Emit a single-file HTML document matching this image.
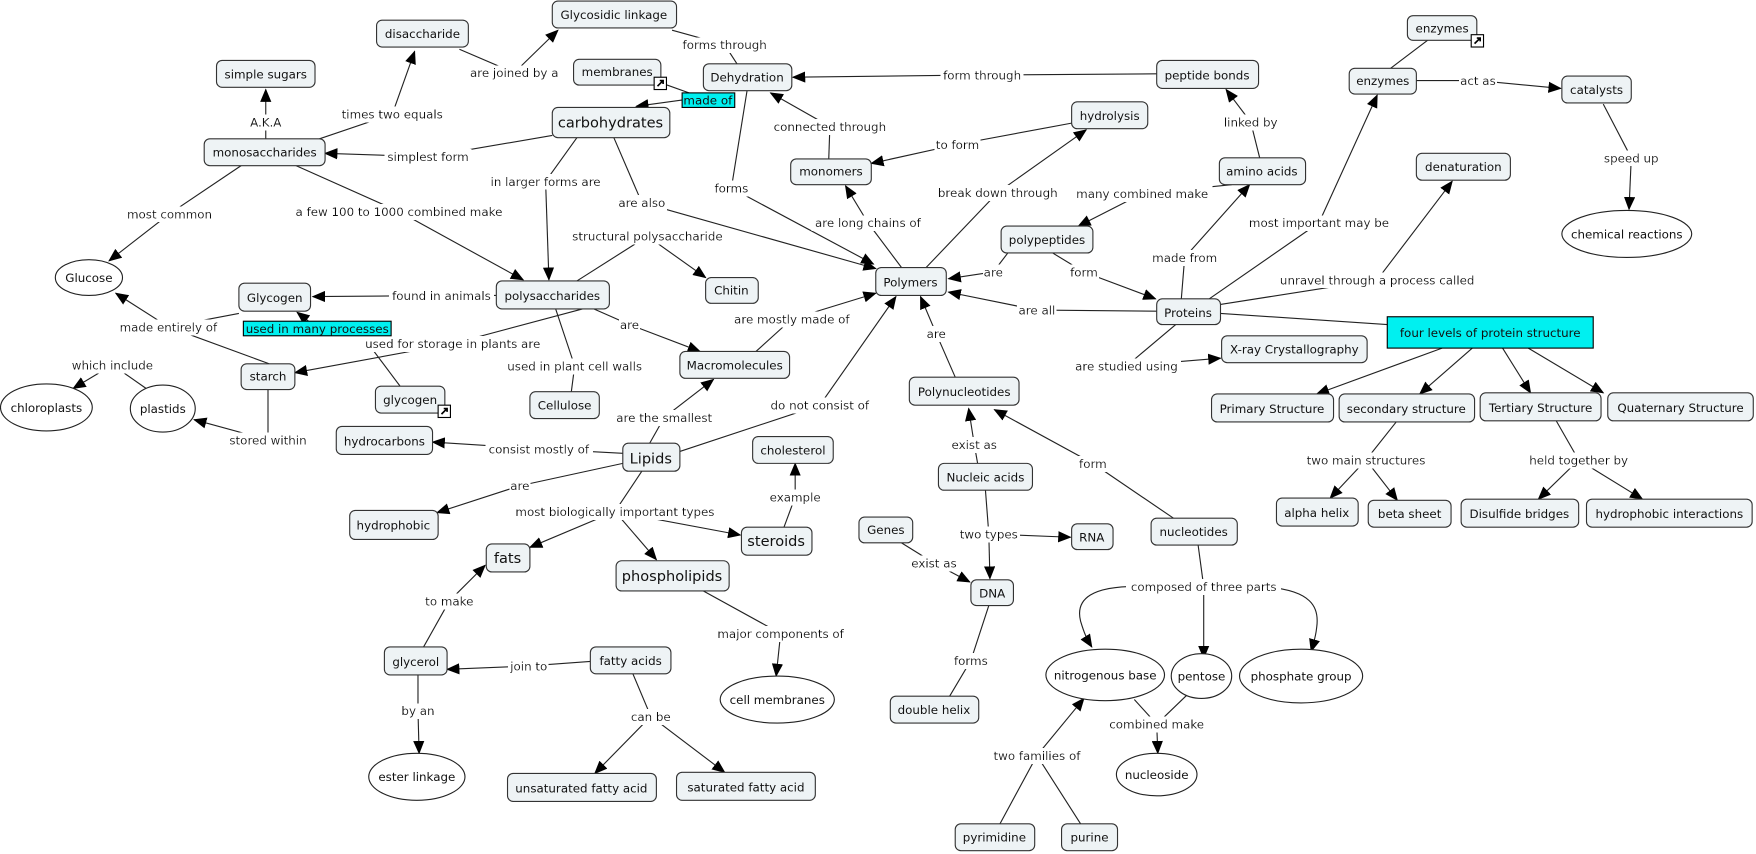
<!DOCTYPE html>
<html><head><meta charset="utf-8"><style>
html,body{margin:0;padding:0;background:#fff;}
svg{display:block;}
text{font-family:"DejaVu Sans","Liberation Sans",sans-serif;font-size:10.6px;fill:#111;}
.n{fill:#eef3f5;stroke:#333;stroke-width:1;}
.e{fill:#fff;stroke:#222;stroke-width:1;}
.l{stroke:#222;stroke-width:1;fill:none;}
.a{stroke:#222;stroke-width:1;fill:none;marker-end:url(#ar);}
.lb{text-anchor:middle;filter:url(#bg);}
.t{text-anchor:middle;}
.big{font-size:13px;}
.cy{fill:#00f0f0;stroke:#000;stroke-width:1;}
</style></head><body>
<svg width="1756" height="854" viewBox="0 0 1568 763" xmlns="http://www.w3.org/2000/svg">
<defs>
<marker id="ar" markerUnits="userSpaceOnUse" markerWidth="12" markerHeight="10" refX="11" refY="5" orient="auto">
<path d="M0,0 L12,5 L0,10 z" fill="#000"/>
</marker>
<filter id="bg" x="-0.03" y="-0.05" width="1.06" height="1.1">
<feFlood flood-color="#ffffff"/>
<feComposite in="SourceGraphic" operator="over"/>
</filter>
</defs>
<rect width="1568" height="763" fill="#fff"/>

<!-- connectors -->
<g>
<path class="l" d="M237,124 L237,109"/><path class="a" d="M237,109 L237,80"/>
<path class="l" d="M285,124 L350,102"/><path class="a" d="M350,102 L370,46"/>
<path class="l" d="M410,44 L459,65"/><path class="a" d="M459,65 L498,27"/>
<path class="l" d="M600,27 L647,40 L658,57"/>
<path class="l" d="M1033,66 L877,67"/><path class="a" d="M877,67 L708,69"/>
<path class="l" d="M590,74 L632,89"/><path class="a" d="M612,89 L568,95"/>
<path class="l" d="M493,121 L382,140"/><path class="a" d="M382,140 L290,137"/>
<path class="l" d="M515,123 L487,162"/><path class="a" d="M487,162 L490,250"/>
<path class="l" d="M548,123 L573,181"/><path class="a" d="M573,181 L782,240"/>
<path class="l" d="M667,81 L653,168"/><path class="a" d="M653,168 L780,236"/>
<path class="l" d="M740,142 L741,113"/><path class="a" d="M741,113 L688,83"/>
<path class="l" d="M957,110 L855,129"/><path class="a" d="M855,129 L778,146"/>
<path class="l" d="M805,239 L775,199"/><path class="a" d="M775,199 L755,166"/>
<path class="l" d="M827,239 L891,172"/><path class="a" d="M891,172 L970,116"/>
<path class="l" d="M215,148 L151,191"/><path class="a" d="M151,191 L97,233"/>
<path class="l" d="M264,148 L356,189"/><path class="a" d="M356,189 L467,250"/>
<path class="l" d="M515,251 L578,211"/><path class="a" d="M578,211 L630,248"/>
<path class="l" d="M443,264 L394,264"/><path class="a" d="M394,264 L279,265"/>
<path class="l" d="M530,276 L562,290"/><path class="a" d="M562,290 L625,314"/>
<path class="l" d="M520,276 L404,307"/><path class="a" d="M404,307 L263,333"/>
<path class="l" d="M496,276 L513,327 L510,350"/>
<path class="l" d="M240,325 L150,292"/><path class="a" d="M150,292 L103,262"/>
<path class="l" d="M213,280 L150,292"/>
<path class="l" d="M357,345 L318,293"/><path class="a" d="M283,293 L265,279"/>
<path class="l" d="M239,348 L239,393"/><path class="a" d="M239,393 L173,375"/>
<path class="l" d="M130,347 L100,326"/><path class="a" d="M100,326 L65,347"/>
<path class="l" d="M675,314 L707,285"/><path class="a" d="M707,285 L782,262"/>
<path class="l" d="M580,396 L593,373"/><path class="a" d="M593,373 L637,339"/>
<path class="l" d="M605,404 L732,362"/><path class="a" d="M732,362 L800,265"/>
<path class="l" d="M853,337 L836,298"/><path class="a" d="M836,298 L822,265"/>
<path class="l" d="M1033,278 L926,277"/><path class="a" d="M926,277 L847,261"/>
<path class="l" d="M900,226 L887,243"/><path class="a" d="M887,243 L847,249"/>
<path class="l" d="M940,226 L968,243"/><path class="a" d="M968,243 L1032,267"/>
<path class="l" d="M1100,165 L1020,173"/><path class="a" d="M1020,173 L963,202"/>
<path class="l" d="M1055,267 L1058,230"/><path class="a" d="M1058,230 L1116,165"/>
<path class="l" d="M1125,141 L1117,109"/><path class="a" d="M1117,109 L1095,80"/>
<path class="l" d="M1080,267 L1178,199"/><path class="a" d="M1178,199 L1230,85"/>
<path class="l" d="M1090,272 L1230,250"/><path class="a" d="M1230,250 L1297,162"/>
<path class="l" d="M1090,280 L1239,290"/>
<path class="l" d="M1050,290 L1006,327"/><path class="a" d="M1006,327 L1090,320"/>
<path class="l" d="M1265,72 L1320,72"/><path class="a" d="M1320,72 L1394,79"/>
<path class="l" d="M1275,36 L1242,61"/>
<path class="l" d="M1432,93 L1457,141"/><path class="a" d="M1457,141 L1455,187"/>
<path class="a" d="M1288,311 L1176,352"/><path class="a" d="M1315,311 L1268,352"/>
<path class="a" d="M1342,311 L1367,351"/><path class="a" d="M1365,311 L1432,351"/>
<path class="l" d="M1247,377 L1220,411"/><path class="a" d="M1220,411 L1188,445"/><path class="a" d="M1220,411 L1248,447"/>
<path class="l" d="M1390,376 L1410,411"/><path class="a" d="M1410,411 L1374,446"/><path class="a" d="M1410,411 L1467,446"/>
<path class="l" d="M556,405 L481,401"/><path class="a" d="M481,401 L386,395"/>
<path class="l" d="M556,414 L464,434"/><path class="a" d="M464,434 L390,458"/>
<path class="l" d="M573,421 L549,457"/><path class="a" d="M549,457 L473,489"/><path class="a" d="M549,457 L586,500"/><path class="a" d="M549,457 L661,478"/>
<path class="l" d="M700,471 L710,444"/><path class="a" d="M710,444 L710,414"/>
<path class="l" d="M628,528 L697,566"/><path class="a" d="M697,566 L693,604"/>
<path class="l" d="M378,578 L401,537"/><path class="a" d="M401,537 L433,505"/>
<path class="l" d="M527,591 L472,595"/><path class="a" d="M472,595 L399,598"/>
<path class="l" d="M373,603 L373,635"/><path class="a" d="M373,635 L374,673"/>
<path class="l" d="M565,602 L581,640"/><path class="a" d="M581,640 L531,691"/><path class="a" d="M581,640 L647,690"/>
<path class="l" d="M873,414 L870,397"/><path class="a" d="M870,397 L865,365"/>
<path class="l" d="M1048,463 L976,414"/><path class="a" d="M976,414 L888,366"/>
<path class="l" d="M880,438 L883,477"/><path class="a" d="M883,477 L956,480"/><path class="a" d="M883,477 L884,517"/>
<path class="l" d="M805,485 L834,503"/><path class="a" d="M834,503 L866,520"/>
<path class="l" d="M883,541 L867,590 L848,622"/>
<path class="l" d="M1070,487 L1075,524"/>
<path class="a" d="M1020,524 C975,523 960,535 965,555 C968,565 970,570 975,578"/>
<path class="a" d="M1075,524 L1075,588"/>
<path class="a" d="M1120,524 C1175,525 1178,545 1176,560 C1175,570 1173,575 1171,582"/>
<path class="l" d="M1013,625 L1033,647 L1060,621"/><path class="a" d="M1033,647 L1034,673"/>
<path class="l" d="M893,736 L926,675 L965,736"/><path class="a" d="M926,675 L968,624"/>
</g>

<!-- link labels -->
<g>
<text class="lb" x="237" y="113">A.K.A</text>
<text class="lb" x="350" y="106">times two equals</text>
<text class="lb" x="459" y="69">are joined by a</text>
<text class="lb" x="647" y="44">forms through</text>
<text class="lb" x="877" y="71">form through</text>
<text class="lb" x="382" y="144">simplest form</text>
<text class="lb" x="487" y="166">in larger forms are</text>
<text class="lb" x="573" y="185">are also</text>
<text class="lb" x="653" y="172">forms</text>
<text class="lb" x="741" y="117">connected through</text>
<text class="lb" x="855" y="133">to form</text>
<text class="lb" x="775" y="203">are long chains of</text>
<text class="lb" x="891" y="176">break down through</text>
<text class="lb" x="151" y="195">most common</text>
<text class="lb" x="356" y="193">a few 100 to 1000 combined make</text>
<text class="lb" x="578" y="215">structural polysaccharide</text>
<text class="lb" x="394" y="268">found in animals</text>
<text class="lb" x="562" y="294">are</text>
<text class="lb" x="404" y="311">used for storage in plants are</text>
<text class="lb" x="513" y="331">used in plant cell walls</text>
<text class="lb" x="150" y="296">made entirely of</text>
<text class="lb" x="239" y="397">stored within</text>
<text class="lb" x="100" y="330">which include</text>
<text class="lb" x="707" y="289">are mostly made of</text>
<text class="lb" x="593" y="377">are the smallest</text>
<text class="lb" x="732" y="366">do not consist of</text>
<text class="lb" x="836" y="302">are</text>
<text class="lb" x="926" y="281">are all</text>
<text class="lb" x="887" y="247">are</text>
<text class="lb" x="968" y="247">form</text>
<text class="lb" x="1020" y="177">many combined make</text>
<text class="lb" x="1058" y="234">made from</text>
<text class="lb" x="1117" y="113">linked by</text>
<text class="lb" x="1178" y="203">most important may be</text>
<text class="lb" x="1230" y="254">unravel through a process called</text>
<text class="lb" x="1006" y="331">are studied using</text>
<text class="lb" x="1320" y="76">act as</text>
<text class="lb" x="1457" y="145">speed up</text>
<text class="lb" x="1220" y="415">two main structures</text>
<text class="lb" x="1410" y="415">held together by</text>
<text class="lb" x="481" y="405">consist mostly of</text>
<text class="lb" x="464" y="438">are</text>
<text class="lb" x="549" y="461">most biologically important types</text>
<text class="lb" x="710" y="448">example</text>
<text class="lb" x="697" y="570">major components of</text>
<text class="lb" x="401" y="541">to make</text>
<text class="lb" x="472" y="599">join to</text>
<text class="lb" x="373" y="639">by an</text>
<text class="lb" x="581" y="644">can be</text>
<text class="lb" x="870" y="401">exist as</text>
<text class="lb" x="976" y="418">form</text>
<text class="lb" x="883" y="481">two types</text>
<text class="lb" x="834" y="507">exist as</text>
<text class="lb" x="867" y="594">forms</text>
<text class="lb" x="1075" y="528">composed of three parts</text>
<text class="lb" x="1033" y="651">combined make</text>
<text class="lb" x="926" y="679">two families of</text>
</g>

<!-- cyan labels -->
<rect class="cy" x="609" y="83" width="47" height="13"/><text class="t" x="632" y="93.5">made of</text>
<rect class="cy" x="217" y="287" width="132" height="13"/><text class="t" x="283" y="297.5">used in many processes</text>

<!-- nodes -->
<g>
<rect class="n" x="493" y="1" width="111" height="24" rx="5"/><text class="t" x="548" y="17">Glycosidic linkage</text>
<rect class="n" x="336" y="18" width="82" height="24" rx="5"/><text class="t" x="377" y="34">disaccharide</text>
<rect class="n" x="193" y="54" width="88" height="24" rx="5"/><text class="t" x="237" y="70">simple sugars</text>
<rect class="n" x="512" y="53" width="78" height="23" rx="5"/><text class="t" x="551" y="68">membranes</text>
<rect class="n" x="628" y="57" width="79" height="24" rx="5"/><text class="t" x="667" y="73">Dehydration</text>
<rect class="n" x="493" y="96" width="105" height="27" rx="5"/><text class="t big" x="545" y="114">carbohydrates</text>
<rect class="n" x="182" y="124" width="108" height="24" rx="5"/><text class="t" x="236" y="140">monosaccharides</text>
<rect class="n" x="1033" y="54" width="91" height="25" rx="5"/><text class="t" x="1078" y="71">peptide bonds</text>
<rect class="n" x="1257" y="14" width="62" height="22" rx="5"/><text class="t" x="1288" y="29">enzymes</text>
<rect class="n" x="1205" y="61" width="60" height="23" rx="5"/><text class="t" x="1235" y="76">enzymes</text>
<rect class="n" x="1395" y="68" width="62" height="24" rx="5"/><text class="t" x="1426" y="84">catalysts</text>
<rect class="n" x="957" y="91" width="68" height="24" rx="5"/><text class="t" x="991" y="107">hydrolysis</text>
<rect class="n" x="706" y="142" width="72" height="23" rx="5"/><text class="t" x="742" y="157">monomers</text>
<rect class="n" x="1089" y="141" width="77" height="24" rx="5"/><text class="t" x="1127" y="157">amino acids</text>
<rect class="n" x="1265" y="137" width="84" height="24" rx="5"/><text class="t" x="1307" y="153">denaturation</text>
<rect class="n" x="894" y="202" width="82" height="24" rx="5"/><text class="t" x="935" y="218">polypeptides</text>
<rect class="n" x="782" y="239" width="63" height="25" rx="5"/><text class="t" x="813" y="256">Polymers</text>
<rect class="n" x="630" y="248" width="47" height="23" rx="5"/><text class="t" x="653" y="263">Chitin</text>
<rect class="n" x="213" y="253" width="64" height="25" rx="5"/><text class="t" x="245" y="270">Glycogen</text>
<rect class="n" x="443" y="251" width="101" height="25" rx="5"/><text class="t" x="493" y="268">polysaccharides</text>
<rect class="n" x="1033" y="267" width="57" height="23" rx="5"/><text class="t" x="1061" y="283">Proteins</text>
<rect class="cy" x="1239" y="283" width="184" height="28"/><text class="t" x="1331" y="301">four levels of protein structure</text>
<rect class="n" x="1091" y="300" width="130" height="24" rx="5"/><text class="t" x="1156" y="316">X-ray Crystallography</text>
<rect class="n" x="607" y="314" width="98" height="24" rx="5"/><text class="t" x="656" y="330">Macromolecules</text>
<rect class="n" x="215" y="325" width="48" height="23" rx="5"/><text class="t" x="239" y="340">starch</text>
<rect class="n" x="335" y="345" width="62" height="24" rx="5"/><text class="t" x="366" y="361">glycogen</text>
<rect class="n" x="812" y="337" width="98" height="25" rx="5"/><text class="t" x="861" y="354">Polynucleotides</text>
<rect class="n" x="473" y="350" width="62" height="24" rx="5"/><text class="t" x="504" y="366">Cellulose</text>
<rect class="n" x="1082" y="352" width="109" height="25" rx="5"/><text class="t" x="1136" y="369">Primary Structure</text>
<rect class="n" x="1196" y="352" width="121" height="25" rx="5"/><text class="t" x="1256" y="369">secondary structure</text>
<rect class="n" x="1322" y="351" width="108" height="25" rx="5"/><text class="t" x="1376" y="368">Tertiary Structure</text>
<rect class="n" x="1436" y="351" width="130" height="25" rx="5"/><text class="t" x="1501" y="368">Quaternary Structure</text>
<rect class="n" x="300" y="381" width="86" height="25" rx="5"/><text class="t" x="343" y="398">hydrocarbons</text>
<rect class="n" x="556" y="396" width="51" height="25" rx="5"/><text class="t big" x="581" y="414">Lipids</text>
<rect class="n" x="672" y="390" width="72" height="24" rx="5"/><text class="t" x="708" y="406">cholesterol</text>
<rect class="n" x="838" y="414" width="84" height="24" rx="5"/><text class="t" x="880" y="430">Nucleic acids</text>
<rect class="n" x="1140" y="445" width="73" height="25" rx="5"/><text class="t" x="1176" y="462">alpha helix</text>
<rect class="n" x="1222" y="447" width="74" height="24" rx="5"/><text class="t" x="1259" y="463">beta sheet</text>
<rect class="n" x="1305" y="446" width="105" height="25" rx="5"/><text class="t" x="1357" y="463">Disulfide bridges</text>
<rect class="n" x="1417" y="446" width="148" height="25" rx="5"/><text class="t" x="1491" y="463">hydrophobic interactions</text>
<rect class="n" x="312" y="456" width="79" height="26" rx="5"/><text class="t" x="351" y="473">hydrophobic</text>
<rect class="n" x="767" y="462" width="48" height="23" rx="5"/><text class="t" x="791" y="477">Genes</text>
<rect class="n" x="957" y="468" width="37" height="23" rx="5"/><text class="t" x="975" y="484">RNA</text>
<rect class="n" x="1028" y="463" width="77" height="24" rx="5"/><text class="t" x="1066" y="479">nucleotides</text>
<rect class="n" x="662" y="471" width="63" height="25" rx="5"/><text class="t big" x="693" y="488">steroids</text>
<rect class="n" x="434" y="486" width="39" height="25" rx="5"/><text class="t big" x="453" y="503">fats</text>
<rect class="n" x="550" y="501" width="101" height="27" rx="5"/><text class="t big" x="600" y="519">phospholipids</text>
<rect class="n" x="867" y="518" width="38" height="23" rx="5"/><text class="t" x="886" y="534">DNA</text>
<rect class="n" x="343" y="578" width="56" height="25" rx="5"/><text class="t" x="371" y="595">glycerol</text>
<rect class="n" x="527" y="578" width="72" height="24" rx="5"/><text class="t" x="563" y="594">fatty acids</text>
<rect class="n" x="795" y="622" width="79" height="24" rx="5"/><text class="t" x="834" y="638">double helix</text>
<rect class="n" x="453" y="691" width="133" height="25" rx="5"/><text class="t" x="519" y="708">unsaturated fatty acid</text>
<rect class="n" x="604" y="690" width="124" height="25" rx="5"/><text class="t" x="666" y="707">saturated fatty acid</text>
<rect class="n" x="853" y="736" width="71" height="24" rx="5"/><text class="t" x="888" y="752">pyrimidine</text>
<rect class="n" x="948" y="736" width="50" height="24" rx="5"/><text class="t" x="973" y="752">purine</text>

<ellipse class="e" cx="1453" cy="209" rx="58" ry="21"/><text class="t" x="1453" y="213">chemical reactions</text>
<ellipse class="e" cx="79" cy="248" rx="30" ry="16"/><text class="t" x="79" y="252">Glucose</text>
<ellipse class="e" cx="41" cy="364" rx="41" ry="21"/><text class="t" x="41" y="368">chloroplasts</text>
<ellipse class="e" cx="145" cy="365" rx="29" ry="21"/><text class="t" x="145" y="369">plastids</text>
<ellipse class="e" cx="987" cy="603" rx="53" ry="23"/><text class="t" x="987" y="607">nitrogenous base</text>
<ellipse class="e" cx="1073" cy="604" rx="27" ry="20"/><text class="t" x="1073" y="608">pentose</text>
<ellipse class="e" cx="1162" cy="604" rx="55" ry="24"/><text class="t" x="1162" y="608">phosphate group</text>
<ellipse class="e" cx="694" cy="625" rx="51" ry="21"/><text class="t" x="694" y="629">cell membranes</text>
<ellipse class="e" cx="372" cy="694" rx="43" ry="21"/><text class="t" x="372" y="698">ester linkage</text>
<ellipse class="e" cx="1033" cy="692" rx="36" ry="19"/><text class="t" x="1033" y="696">nucleoside</text>
</g>

<!-- shortcut icons -->
<g>
<rect x="584" y="69" width="11" height="11" fill="#fff" stroke="#000"/><path d="M587,77 L592,72 M589,72 L592,72 L592,75" stroke="#000" stroke-width="1.5" fill="none"/>
<rect x="1314" y="31" width="11" height="11" fill="#fff" stroke="#000"/><path d="M1317,39 L1322,34 M1319,34 L1322,34 L1322,37" stroke="#000" stroke-width="1.5" fill="none"/>
<rect x="391" y="362" width="11" height="11" fill="#fff" stroke="#000"/><path d="M394,370 L399,365 M396,365 L399,365 L399,368" stroke="#000" stroke-width="1.5" fill="none"/>
</g>
</svg>
</body></html>
